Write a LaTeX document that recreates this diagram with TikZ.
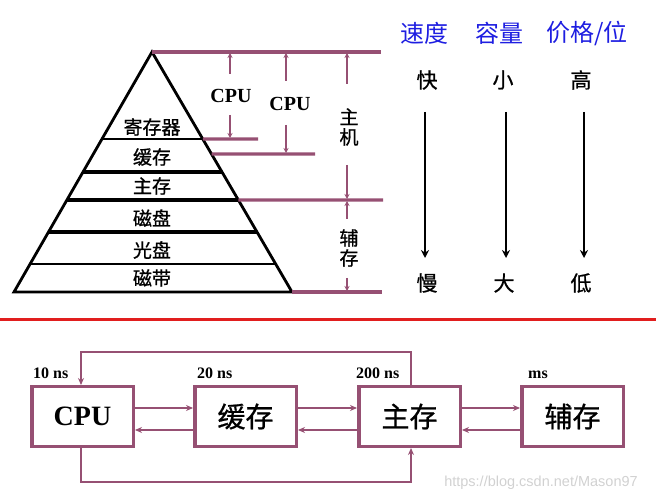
\documentclass[tikz,border=0pt]{standalone}
\usepackage{fontspec}
\setmainfont{Liberation Serif}
\newfontfamily\cjk[FakeBold=0.8]{Noto Sans CJK SC}
\newfontfamily\cjkt{Noto Sans CJK SC}
\newfontfamily\wmfont{Liberation Sans}
\usetikzlibrary{arrows.meta,calc}
\definecolor{purp}{RGB}{150,80,115}
\definecolor{tblue}{RGB}{30,30,225}
\definecolor{lred}{RGB}{225,30,30}
\begin{document}
\begin{tikzpicture}[x=1pt,y=-1pt,
  pl/.style={font=\cjk\fontsize{19}{20}\selectfont, inner sep=0pt},
  ttl/.style={text=tblue, font=\cjkt\fontsize{24}{26}\selectfont, inner sep=0pt},
  col/.style={font=\cjk\fontsize{21}{22}\selectfont, inner sep=0pt},
  cpul/.style={font=\bfseries\fontsize{20}{22}\selectfont, inner sep=0pt},
  side/.style={font=\cjk\fontsize{19}{20}\selectfont, align=center, inner sep=0pt},
  ph/.style={draw=purp, line width=3.2pt},
  pv/.style={draw=purp, line width=1.8pt, -{Stealth[length=5pt,width=5pt]}},
  barr/.style={draw=black, line width=1.8pt, -{Stealth[length=8pt,width=8pt]}},
  box/.style={draw=purp, line width=3.5pt, minimum width=101.5pt, minimum height=59.5pt, inner sep=0pt},
  boxl/.style={font=\cjk\fontsize{28}{30}\selectfont},
  boxc/.style={font=\bfseries\fontsize{28}{30}\selectfont},
  tm/.style={font=\bfseries\fontsize{16}{18}\selectfont, anchor=base west, inner sep=0pt},
  conn/.style={draw=purp, line width=2.2pt, -{Stealth[length=7pt,width=6pt]}},
  wm/.style={text=black!18, font=\wmfont\fontsize{14.5}{16}\selectfont, inner sep=0pt}
]
\useasboundingbox (0,0) rectangle (656,502);

% ---------- pyramid ----------
\coordinate (apex) at (152,52);
\coordinate (bl) at (14,292);
\coordinate (br) at (292,292);
\draw[line width=2.8pt, line join=miter] (apex) -- (bl) -- (br) -- cycle;
\foreach \t/\w in {0.3625/2.2, 0.5/3.8, 0.6167/3.2, 0.75/3.8, 0.8833/2.2}
  \draw[line width=\w pt] ($(apex)!\t!(bl)$) -- ($(apex)!\t!(br)$);

\node[pl] (l1) at (152,127) {寄存器};
\node[pl] (l2) at (152,157) {缓存};
\node[pl] (l3) at (152,186) {主存};
\node[pl] (l4) at (152,218) {磁盘};
\node[pl] (l5) at (152,250) {光盘};
\node[pl] (l6) at (152,278) {磁带};

% ---------- purple brackets ----------
\draw[ph] (apex) -- (381,52);
\draw[ph] ($(apex)!0.3625!(br)$) -- (258,139);
\draw[ph] ($(apex)!0.425!(br)$) -- (315,154);
\draw[ph] ($(apex)!0.6167!(br)$) -- (383,200);
\draw[ph] (br) -- (382,292);

\node[cpul] (cpu1) at (231,96) {CPU};
\draw[pv] (230,74) -- (230,53);
\draw[pv] (230,115) -- (230,138);
\node[cpul] (cpu2) at (290,104) {CPU};
\draw[pv] (286,81) -- (286,53);
\draw[pv] (286,125) -- (286,153);
\node[side] (zj) at (349,127) {主\\机};
\draw[pv] (347,84) -- (347,53);
\draw[pv] (347,165) -- (347,199);
\node[side] (fc) at (349,248) {辅\\存};
\draw[pv] (347,219) -- (347,201);
\draw[pv] (347,278) -- (347,291);

% ---------- right columns ----------
\node[ttl] (t1) at (424,33) {速度};
\node[ttl] (t2) at (499,33) {容量};
\node[ttl] (t3) at (587,33) {价格/位};
\node[col] (kuai) at (427,80) {快};
\node[col] (xiao) at (503,80) {小};
\node[col] (gao) at (581,80) {高};
\node[col] (man) at (427,283) {慢};
\node[col] (da) at (504,283) {大};
\node[col] (di) at (581,283) {低};
\draw[barr] (425,112) -- (425,258);
\draw[barr] (506,112) -- (506,258);
\draw[barr] (584,112) -- (584,258);

% ---------- red separator ----------
\draw[lred, line width=3pt] (0,320) -- (656,320);

% ---------- bottom chain ----------
\node[box, boxc] (cpu) at (82.5,416.5) {CPU};
\node[box, boxl] (cache) at (245.5,416.5) {缓存};
\node[box, boxl] (mem) at (409.5,416.5) {主存};
\node[box, boxl] (aux) at (572.5,416.5) {辅存};

\node[tm] (n1) at (33,379) {10 ns};
\node[tm] (n2) at (197,379) {20 ns};
\node[tm] (n3) at (356,379) {200 ns};
\node[tm] (n4) at (528,379) {ms};

\draw[conn] ([yshift=8.5pt]cpu.east) -- ([yshift=8.5pt]cache.west);
\draw[conn] ([yshift=-13.5pt]cache.west) -- ([yshift=-13.5pt]cpu.east);
\draw[conn] ([yshift=8.5pt]cache.east) -- ([yshift=8.5pt]mem.west);
\draw[conn] ([yshift=-13.5pt]mem.west) -- ([yshift=-13.5pt]cache.east);
\draw[conn] ([yshift=8.5pt]mem.east) -- ([yshift=8.5pt]aux.west);
\draw[conn] ([yshift=-13.5pt]aux.west) -- ([yshift=-13.5pt]mem.east);

\draw[conn] ([xshift=1.5pt]mem.north) -- ++(0,-33) -| ([xshift=-1.5pt]cpu.north);
\draw[conn] ([xshift=-1.5pt]cpu.south) -- ++(0,34) -| ([xshift=1.5pt]mem.south);

\node[wm] (wmk) at (541,483) {https://blog.csdn.net/Mason97};
\end{tikzpicture}
\end{document}
